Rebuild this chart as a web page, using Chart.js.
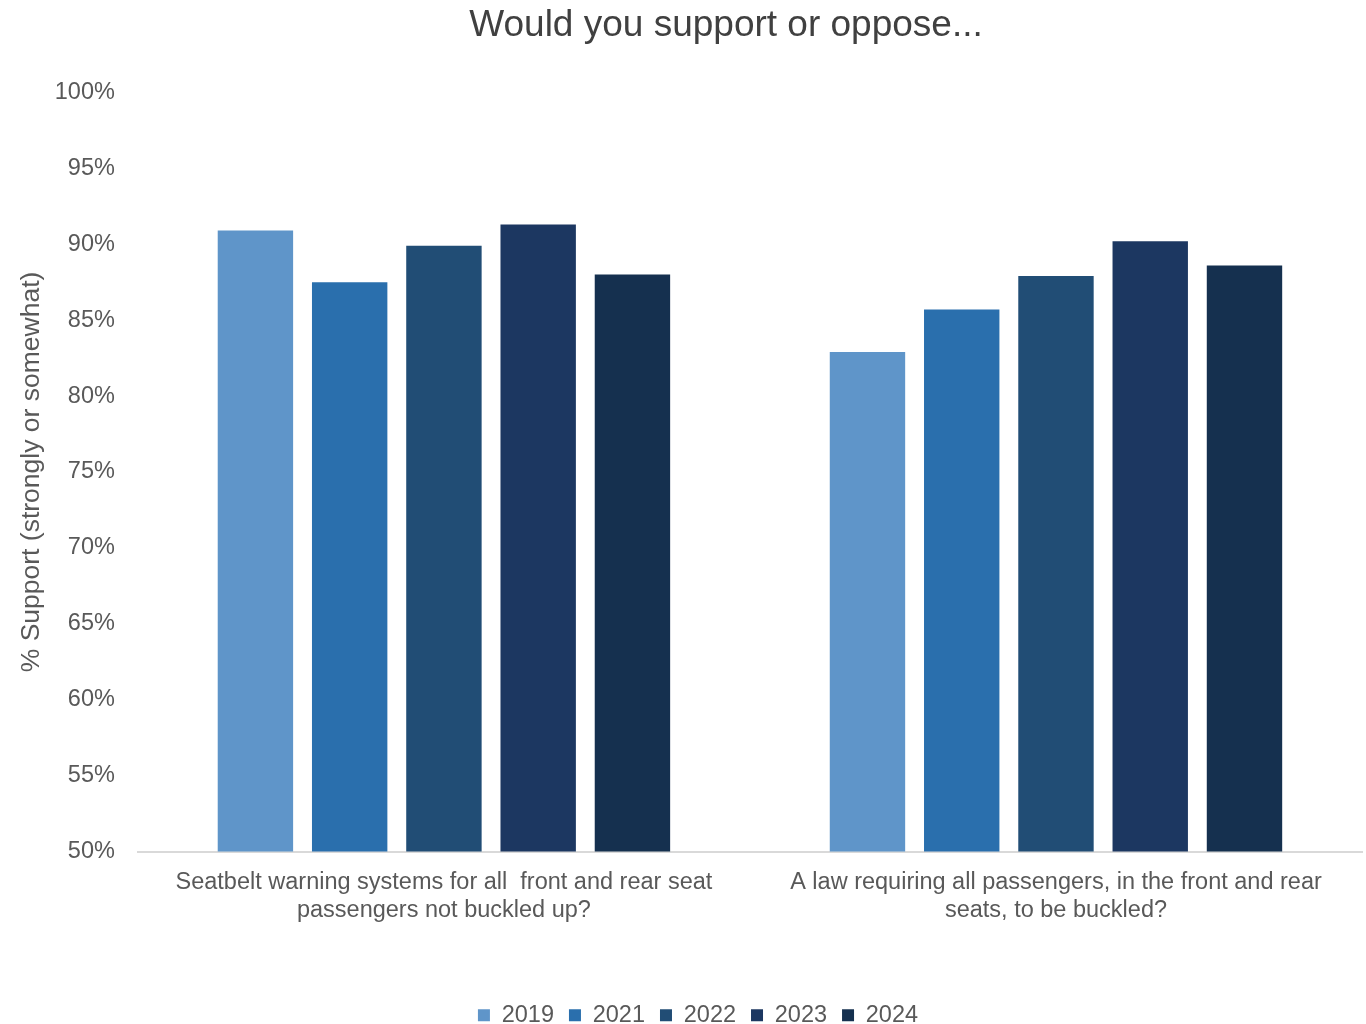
<!DOCTYPE html>
<html>
<head>
<meta charset="utf-8">
<script src="https://cdn.jsdelivr.net/npm/chart.js@4/dist/chart.umd.min.js"></script>
<style>
  html, body { margin: 0; padding: 0; background: #fff; }
  #wrap { width: 1366px; height: 1024px; position: relative; }
</style>
</head>
<body>
<div id="wrap"><canvas id="chart"></canvas></div>
<script>
// categories (x axis labels, wrapped as in the original)
const categories = [
    ['Seatbelt warning systems for all  front and rear seat', 'passengers not buckled up?'],
    ['A law requiring all passengers, in the front and rear', 'seats, to be buckled?']
];

const years = ['2019', '2021', '2022', '2023', '2024'];

// % support per year, one value per category
const support2019 = [90.9, 82.9];
const support2021 = [87.5, 85.7];
const support2022 = [89.9, 87.9];
const support2023 = [91.3, 90.2];
const support2024 = [88.0, 88.6];

const yearColors = ['#5f95c9', '#2a6fad', '#214d75', '#1c3761', '#15304f'];

const seriesValues = [support2019, support2021, support2022, support2023, support2024];

const textGray = '#595959';
const fontFamily = 'Arial, "Liberation Sans", Helvetica, sans-serif';

const datasets = years.map((y, i) => ({
    label: y,
    data: seriesValues[i],
    backgroundColor: yearColors[i],
    borderWidth: 0,
    barPercentage: 0.8,
    categoryPercentage: 0.77
}));

// the original title and legend sit a bit right of the page centre
const shiftBlocks = {
    id: 'shiftBlocks',
    afterLayout(chart) {
        if (chart.titleBlock) chart.titleBlock.left += 86;
        if (chart.legend) chart.legend.left += 30;
    }
};

new Chart(document.getElementById('chart').getContext('2d'), {
    type: 'bar',
    data: { labels: categories, datasets: datasets },
    plugins: [shiftBlocks],
    options: {
        responsive: true,
        maintainAspectRatio: false,
        animation: false,
        layout: { padding: { left: 4, right: 4, top: 0, bottom: -13 } },
        plugins: {
            title: {
                display: true,
                text: 'Would you support or oppose...',
                color: '#404040',
                font: { family: fontFamily, size: 37, weight: 'normal' },
                padding: { top: 4, bottom: 44 }
            },
            legend: {
                position: 'bottom',
                labels: {
                    color: textGray,
                    font: { family: fontFamily, size: 23.5 },
                    boxWidth: 12,
                    boxHeight: 12,
                    padding: 15
                }
            },
            tooltip: { enabled: false }
        },
        scales: {
            x: {
                grid: { display: false },
                border: { display: true, color: '#d9d9d9', width: 2 },
                ticks: {
                    color: textGray,
                    font: { family: fontFamily, size: 23.5 },
                    maxRotation: 0,
                    padding: 9
                },
                afterFit: (scale) => { scale.height = 137; }
            },
            y: {
                min: 50,
                max: 100,
                grid: { display: false },
                border: { display: false },
                ticks: {
                    stepSize: 5,
                    color: textGray,
                    font: { family: fontFamily, size: 23.5 },
                    padding: 15,
                    callback: (v) => v + '%'
                },
                title: {
                    display: true,
                    text: '% Support (strongly or somewhat)',
                    color: textGray,
                    font: { family: fontFamily, size: 26.5 },
                    padding: { top: 12, bottom: -8 }
                }
            }
        }
    }
});
</script>
</body>
</html>
